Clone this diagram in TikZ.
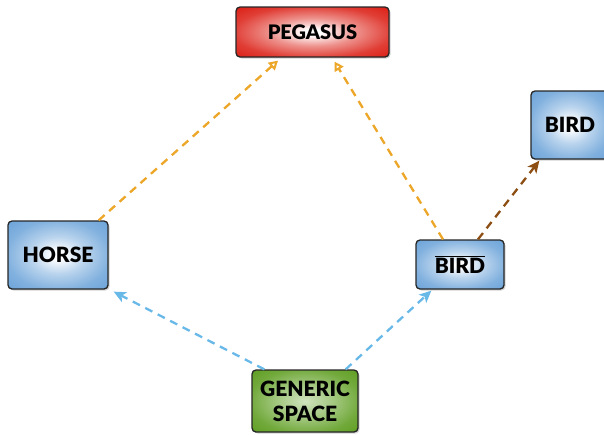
\documentclass[tikz,border=0pt]{standalone}
\usepackage{fontspec}
\setmainfont{Lato}[BoldFont={Lato Black}]
\usetikzlibrary{arrows.meta,shadows}
\definecolor{redE}{RGB}{220,36,26}
\definecolor{blueE}{RGB}{112,166,218}
\definecolor{greenE}{RGB}{98,160,38}
\definecolor{arrOr}{RGB}{236,166,40}
\definecolor{arrBl}{RGB}{105,185,232}
\definecolor{arrBr}{RGB}{140,78,18}
\pgfdeclareradialshading{redsh}{\pgfpoint{0bp}{0bp}}{color(0bp)=(white);color(3bp)=(white);color(14bp)=(redE!50!white);color(26bp)=(redE!88!white);color(34bp)=(redE);color(50bp)=(redE)}
\pgfdeclareradialshading{bluesh}{\pgfpoint{0bp}{0bp}}{color(0bp)=(white);color(3bp)=(white);color(14bp)=(blueE!50!white);color(26bp)=(blueE!88!white);color(34bp)=(blueE);color(50bp)=(blueE)}
\pgfdeclareradialshading{greensh}{\pgfpoint{0bp}{0bp}}{color(0bp)=(greenE!30!white);color(14bp)=(greenE!60!white);color(26bp)=(greenE!90!white);color(34bp)=(greenE);color(50bp)=(greenE)}
\begin{document}
\begin{tikzpicture}[x=1pt,y=-1pt,
  box/.style={draw=black!85,line width=1.3pt,rounded corners=4pt,
    drop shadow={shadow xshift=1.5pt,shadow yshift=-1.5pt,opacity=0.35},
    font=\fontsize{21}{25}\selectfont\bfseries,align=center,inner sep=0pt},
  redbox/.style={box,shading=redsh},
  bluebox/.style={box,shading=bluesh},
  greenbox/.style={box,shading=greensh},
  conn/.style={line width=2.3pt,dash pattern=on 8pt off 6pt},
  orarr/.style={conn,draw=arrOr,-{Triangle[open,length=9pt,width=10pt,line width=2pt]}},
  blarr/.style={conn,draw=arrBl,-{Stealth[length=12pt,width=11pt,inset=3pt]}},
  brarr/.style={conn,draw=arrBr,-{Stealth[length=12pt,width=11pt,inset=3pt]}}]
\useasboundingbox (0,0) rectangle (604,434);
\node[redbox,minimum width=153pt,minimum height=50pt,font=\fontsize{20}{24}\selectfont\bfseries] (peg) at (312.5,32) {PEGASUS};
\node[bluebox,minimum width=100pt,minimum height=68pt] (horse) at (58,255) {HORSE};
\node[bluebox,minimum width=78pt,minimum height=68pt] (bird) at (570,125) {BIRD};
\node[bluebox,minimum width=88pt,minimum height=49pt] (birdbar) at (460,264.5) {$\overline{\hbox{BIRD}}$};
\node[greenbox,minimum width=106pt,minimum height=62pt] (gen) at (305,401) {GENERIC\\SPACE};
\draw[orarr] ([xshift=-10pt]horse.north east) -- ([xshift=-34.5pt,yshift=-3pt]peg.south);
\draw[orarr] ([xshift=-17pt]birdbar.north) -- ([xshift=22pt,yshift=-4pt]peg.south);
\draw[brarr] ([xshift=18pt]birdbar.north) -- ([xshift=9pt,yshift=-1pt]bird.south west);
\draw[blarr] ([xshift=13pt]gen.north west) -- ([xshift=5pt,yshift=-2pt]horse.south east);
\draw[blarr] ([xshift=-13pt]gen.north east) -- ([xshift=16pt,yshift=-1pt]birdbar.south west);
\end{tikzpicture}
\end{document}
